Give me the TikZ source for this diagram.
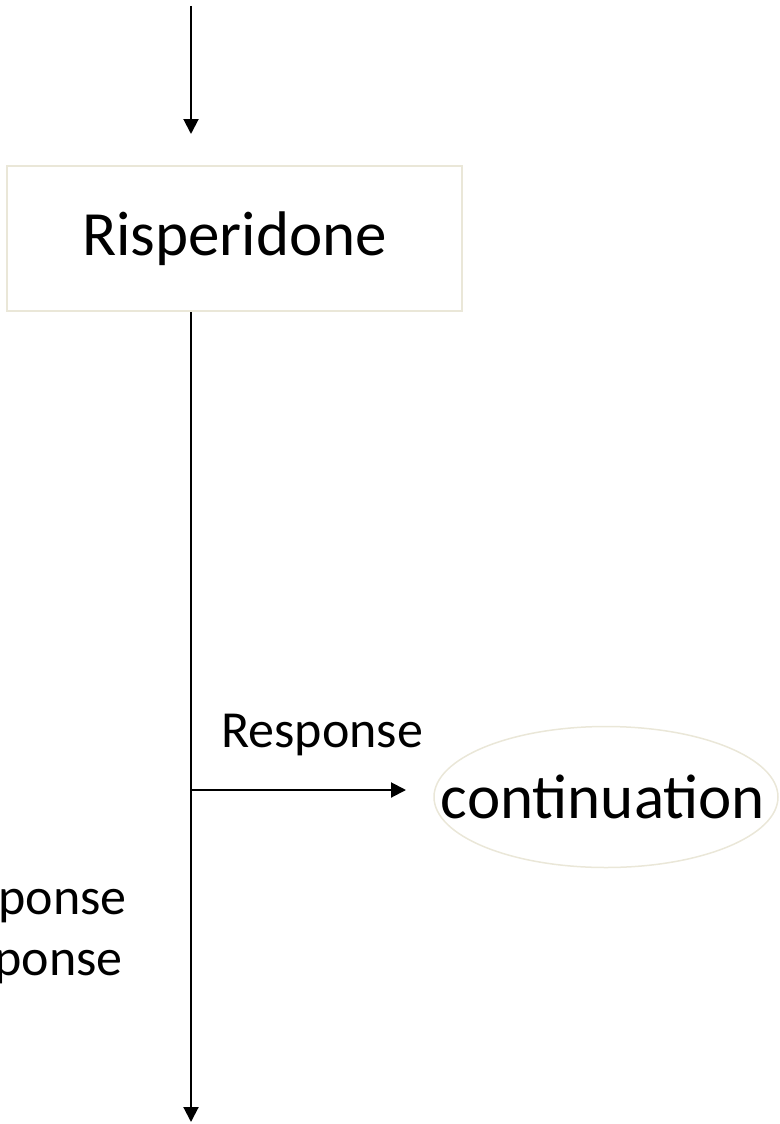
\documentclass[tikz,border=0pt]{standalone}
\usepackage{fontspec}
\setmainfont{Carlito}
\usetikzlibrary{shapes.geometric,arrows.meta}
\definecolor{beige}{RGB}{234,231,216}
\begin{document}
\begin{tikzpicture}[x=1pt,y=-1pt,
  conn/.style={line width=2pt,-{Triangle[length=15pt,width=15pt]}},
  boxstyle/.style={draw=beige,line width=2pt,minimum width=455pt,minimum height=145pt,inner sep=0pt,font=\fontsize{63}{75}\selectfont},
  ellstyle/.style={ellipse,draw=beige,line width=1.5pt,minimum width=344pt,minimum height=141pt,inner sep=0pt},
  big/.style={font=\fontsize{63}{75}\selectfont,inner sep=0pt},
  lbl/.style={font=\fontsize{52}{62}\selectfont,inner sep=0pt}]
\useasboundingbox (0,0) rectangle (779,1124);
\clip (0,0) rectangle (779,1124);
\coordinate (top) at (191,6);
\coordinate (topend) at (191,134);
\node[boxstyle] (box) at (234.5,238.5) {Risperidone};
\node[ellstyle] (cont) at (606,797) {};
\node[big] (conttext) at (603,797) {continuation};
\coordinate (split) at (191,790);
\coordinate (bottom) at (191,1122);
\coordinate (rightend) at (406,790);
\draw[conn] (top) -- (topend);
\draw[line width=2pt] (box.south -| top) -- (split);
\draw[conn] (split) -- (bottom);
\draw[conn] (split) -- (rightend);
\node[lbl,anchor=base west] (resp) at (221,747) {Response};
\node[lbl,anchor=base east] (l1) at (127,914) {ponse};
\node[lbl,anchor=base east] (l2) at (123,975) {ponse};
\end{tikzpicture}
\end{document}
